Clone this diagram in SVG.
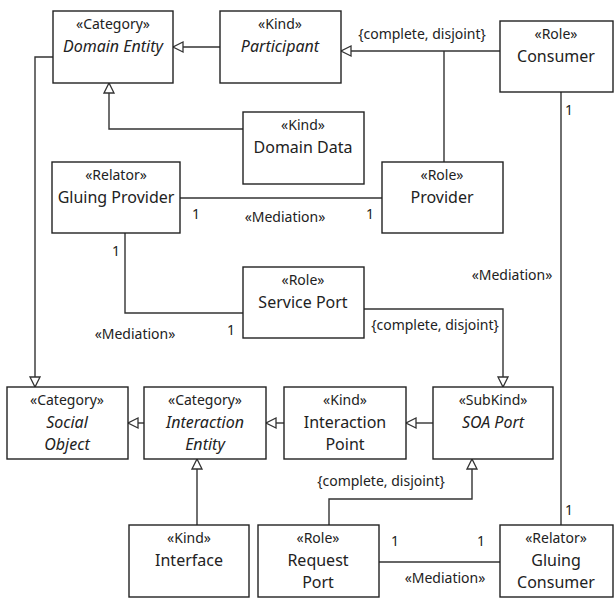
<svg xmlns="http://www.w3.org/2000/svg" width="614" height="598" viewBox="0 0 614 598">
<defs>
<marker id="gen" markerUnits="userSpaceOnUse" markerWidth="14" markerHeight="14" refX="11" refY="6" orient="auto">
<path d="M1,1 L11,6 L1,11 Z" fill="#fff" stroke="#333" stroke-width="1.3"/>
</marker>
<style>
rect{fill:#fff;stroke:#222;stroke-width:1.4}
text{font-family:"Noto Sans","Open Sans",sans-serif;fill:#222;text-anchor:middle}
.st{font-size:14px}
.nm{font-size:16px}
.it{font-style:italic}
.lb{font-size:14px}
.ln{fill:none;stroke:#333;stroke-width:1.4}
.g{marker-end:url(#gen)}
</style>
</defs>
<rect x="0" y="0" width="614" height="598" style="fill:#fff;stroke:none"/>
<g id="connectors">
<path class="ln g" d="M220,47 H173"/>
<path class="ln g" d="M500,51 H341"/>
<path class="ln" d="M444,51 V162"/>
<path class="ln g" d="M243,129 H109 V83"/>
<path class="ln g" d="M53,57 H35 V387"/>
<path class="ln" d="M180,198 H382"/>
<path class="ln" d="M125,233 V313 H243"/>
<path class="ln g" d="M364,309 H503 V387"/>
<path class="ln" d="M561,92 V525"/>
<path class="ln g" d="M144,423 H128"/>
<path class="ln g" d="M284,423 H266"/>
<path class="ln g" d="M433,423 H406"/>
<path class="ln g" d="M197,525 V459"/>
<path class="ln g" d="M329,525 V499 H472 V459"/>
<path class="ln" d="M379,562 H500"/>
<text class="lb" x="422" y="39">{complete, disjoint}</text>
<text class="lb" x="196" y="219">1</text>
<text class="lb" x="285" y="222">«Mediation»</text>
<text class="lb" x="370" y="219">1</text>
<text class="lb" x="116" y="256">1</text>
<text class="lb" x="135" y="339">«Mediation»</text>
<text class="lb" x="231" y="335">1</text>
<text class="lb" x="435" y="330">{complete, disjoint}</text>
<text class="lb" x="512" y="280">«Mediation»</text>
<text class="lb" x="569" y="115">1</text>
<text class="lb" x="569" y="515">1</text>
<text class="lb" x="381" y="486">{complete, disjoint}</text>
<text class="lb" x="395" y="546">1</text>
<text class="lb" x="481" y="546">1</text>
<text class="lb" x="445" y="583">«Mediation»</text>
</g>
<g id="domain-entity"><rect x="53" y="11" width="120" height="72"/><text class="st" x="113" y="29">«Category»</text><text class="nm it" x="113" y="52">Domain Entity</text></g>
<g id="participant"><rect x="220" y="11" width="121" height="72"/><text class="st" x="280" y="29">«Kind»</text><text class="nm it" x="280" y="52">Participant</text></g>
<g id="consumer"><rect x="500" y="21" width="113" height="71"/><text class="st" x="556" y="39">«Role»</text><text class="nm" x="556" y="62">Consumer</text></g>
<g id="domain-data"><rect x="243" y="112" width="121" height="72"/><text class="st" x="303" y="130">«Kind»</text><text class="nm" x="303" y="153">Domain Data</text></g>
<g id="gluing-provider"><rect x="52" y="162" width="128" height="71"/><text class="st" x="116" y="180">«Relator»</text><text class="nm" x="116" y="203">Gluing Provider</text></g>
<g id="provider"><rect x="382" y="162" width="121" height="71"/><text class="st" x="442" y="180">«Role»</text><text class="nm" x="442" y="203">Provider</text></g>
<g id="service-port"><rect x="243" y="267" width="121" height="71"/><text class="st" x="303" y="285">«Role»</text><text class="nm" x="303" y="308">Service Port</text></g>
<g id="social-object"><rect x="7" y="387" width="121" height="72"/><text class="st" x="67" y="405">«Category»</text><text class="nm it" x="67" y="428">Social</text><text class="nm it" x="67" y="450">Object</text></g>
<g id="interaction-entity"><rect x="144" y="387" width="122" height="72"/><text class="st" x="205" y="405">«Category»</text><text class="nm it" x="205" y="428">Interaction</text><text class="nm it" x="205" y="450">Entity</text></g>
<g id="interaction-point"><rect x="284" y="387" width="122" height="72"/><text class="st" x="345" y="405">«Kind»</text><text class="nm" x="345" y="428">Interaction</text><text class="nm" x="345" y="450">Point</text></g>
<g id="soa-port"><rect x="433" y="387" width="120" height="72"/><text class="st" x="493" y="405">«SubKind»</text><text class="nm it" x="493" y="428">SOA Port</text></g>
<g id="interface"><rect x="129" y="525" width="120" height="72"/><text class="st" x="189" y="543">«Kind»</text><text class="nm" x="189" y="566">Interface</text></g>
<g id="request-port"><rect x="258" y="525" width="121" height="72"/><text class="st" x="318" y="543">«Role»</text><text class="nm" x="318" y="566">Request</text><text class="nm" x="318" y="588">Port</text></g>
<g id="gluing-consumer"><rect x="500" y="525" width="113" height="72"/><text class="st" x="556" y="543">«Relator»</text><text class="nm" x="556" y="566">Gluing</text><text class="nm" x="556" y="588">Consumer</text></g>
</svg>
